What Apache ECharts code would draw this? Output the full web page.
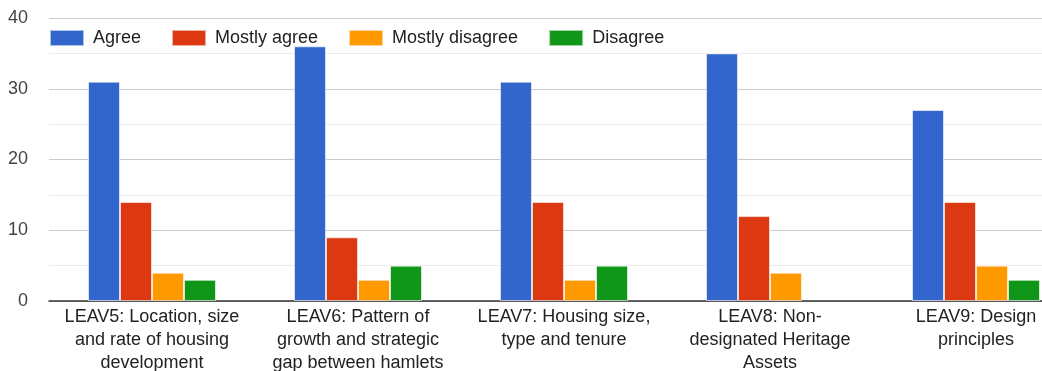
<!DOCTYPE html>
<html>
<head>
<meta charset="utf-8">
<script src="https://cdn.jsdelivr.net/npm/echarts@6/dist/echarts.min.js"></script>
<style>html,body{margin:0;padding:0;background:#fff;}#c{width:1042px;height:371px;}</style>
</head>
<body>
<div id="c"></div>
<script>
const categories = [
  "LEAV5: Location, size\nand rate of housing\ndevelopment",
  "LEAV6: Pattern of\ngrowth and strategic\ngap between hamlets",
  "LEAV7: Housing size,\ntype and tenure",
  "LEAV8: Non-\ndesignated Heritage\nAssets",
  "LEAV9: Design\nprinciples"
];
const seriesNames = ["Agree", "Mostly agree", "Mostly disagree", "Disagree"];
const agree = [31, 36, 31, 35, 27];
const mostlyAgree = [14, 9, 14, 12, 14];
const mostlyDisagree = [4, 3, 3, 4, 5];
const disagree = [3, 5, 5, 0, 3];
const colors = ["#3366cc", "#dc3912", "#ff9900", "#109618"];
const yTicks = [0, 10, 20, 30, 40];

const FONT = "Arial, 'Liberation Sans', sans-serif";
const chart = echarts.init(document.getElementById('c'), null, {renderer: 'canvas'});
const values = [agree, mostlyAgree, mostlyDisagree, disagree];
chart.setOption({
  animation: false,
  color: colors,
  textStyle: {fontFamily: FONT},
  legend: {
    left: 49, top: 29, padding: 0,
    itemWidth: 34, itemHeight: 16, itemGap: 30,
    icon: 'rect',
    textStyle: {fontSize: 18, color: '#222', fontFamily: FONT, padding: [0, 0, 0, 4]},
    data: seriesNames
  },
  grid: {left: 49, top: 18, width: 1030, height: 283, containLabel: false, outerBoundsMode: 'none'},
  xAxis: {
    type: 'category',
    data: categories,
    axisTick: {show: false},
    axisLine: {lineStyle: {color: '#333', width: 1.5}},
    axisLabel: {fontSize: 18, color: '#222', lineHeight: 23, margin: 5, interval: 0, fontFamily: FONT}
  },
  yAxis: {
    type: 'value',
    min: yTicks[0], max: yTicks[yTicks.length - 1], interval: 10,
    axisLine: {show: false},
    axisTick: {show: false},
    axisLabel: {fontSize: 18, color: '#444', margin: 21, fontFamily: FONT},
    splitLine: {lineStyle: {color: '#cccccc', width: 1}},
    minorTick: {show: false, splitNumber: 2},
    minorSplitLine: {show: true, lineStyle: {color: '#ebebeb', width: 1}}
  },
  series: seriesNames.map((n, i) => ({
    name: n,
    type: 'bar',
    data: values[i].map(v => v === 0 ? {value: v, itemStyle: {borderWidth: 0}} : v),
    barWidth: 32,
    barGap: '0%',
    itemStyle: {borderColor: 'rgba(255,255,255,0.6)', borderWidth: 1}
  }))
});
</script>
</body>
</html>
